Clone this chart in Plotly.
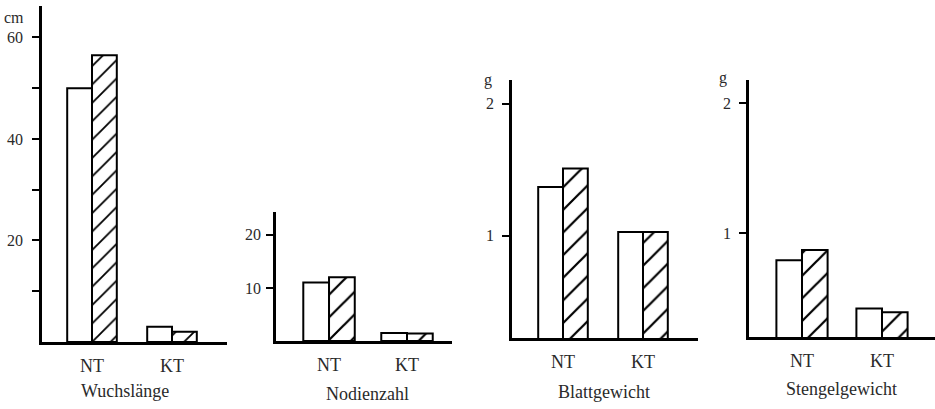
import plotly.graph_objects as go

# ---- data ----
categories = ["NT", "KT"]
panel_titles = ["Wuchslänge", "Nodienzahl", "Blattgewicht", "Stengelgewicht"]
panel_units = ["cm", "", "g", "g"]

wuchs_open = [50, 3]
wuchs_hatch = [56.5, 2]
nodien_open = [11, 1.5]
nodien_hatch = [12, 1.4]
blatt_open = [1.37, 1.03]
blatt_hatch = [1.51, 1.03]
stengel_open = [0.79, 0.42]
stengel_hatch = [0.87, 0.39]

open_series = [wuchs_open, nodien_open, blatt_open, stengel_open]
hatch_series = [wuchs_hatch, nodien_hatch, blatt_hatch, stengel_hatch]

major_ticks = [[20, 40, 60], [10, 20], [1, 2], [1, 2]]
minor_ticks = [[10, 30, 50], [], [], []]

# ---- layout (pixel geometry) ----
W, H = 935, 409
panels = [
    dict(x=(42, 227), y=(6, 342), yr=(0, 66.2), xr=(-0.625, 1.6875), hatch=13, bw=0.31,
         unit_pos=(14, 17), title_pos=(125, 391), standoff=6),
    dict(x=(276, 452), y=(212, 341), yr=(0, 24.3), xr=(-0.68, 1.577), hatch=16, bw=0.33,
         unit_pos=None, title_pos=(367, 394), standoff=2),
    dict(x=(512, 698), y=(80, 338), yr=(0.227, 2.18), xr=(-0.6375, 1.6875), hatch=16, bw=0.31,
         unit_pos=(488, 80), title_pos=(604, 392), standoff=5),
    dict(x=(749, 935), y=(80, 337), yr=(0.2, 2.177), xr=(-0.6625, 1.6625), hatch=16, bw=0.32,
         unit_pos=(723, 78), title_pos=(841, 389), standoff=5),
]

FONT = "Liberation Serif"
TXT = "#2a2a2a"

fig = go.Figure()
annotations = []
layout = dict(width=W, height=H, margin=dict(l=0, r=0, t=0, b=0),
              paper_bgcolor="white", plot_bgcolor="white", showlegend=False,
              barmode="overlay", font=dict(family=FONT, color=TXT, size=16))

for i, p in enumerate(panels):
    n = "" if i == 0 else str(i + 1)
    xa, ya = "x" + n, "y" + n
    bw = p["bw"]
    fig.add_trace(go.Bar(x=categories, y=open_series[i], xaxis=xa, yaxis=ya,
                         width=bw, offset=-bw, opacity=1,
                         marker=dict(color="white", opacity=1,
                                     line=dict(color="black", width=2))))
    fig.add_trace(go.Bar(x=categories, y=hatch_series[i], xaxis=xa, yaxis=ya,
                         width=bw, offset=0, opacity=1,
                         marker=dict(color="white", opacity=1,
                                     line=dict(color="black", width=2),
                                     pattern=dict(shape="/", fgcolor="black", bgcolor="white",
                                                  fgopacity=1, size=p["hatch"], solidity=0.14))))
    xd = [p["x"][0] / W, p["x"][1] / W]
    yd = [1 - p["y"][1] / H, 1 - p["y"][0] / H]
    layout["xaxis" + n] = dict(domain=xd, range=list(p["xr"]), anchor=ya, showgrid=False,
                               zeroline=False, showline=True, linecolor="black", linewidth=2.5,
                               ticks="", ticklabelstandoff=6,
                               tickfont=dict(family=FONT, size=18, color=TXT), fixedrange=True)
    yax = dict(domain=yd, range=list(p["yr"]), anchor=xa, showgrid=False, zeroline=False,
               showline=True, linecolor="black", linewidth=2.5,
               tickmode="array", tickvals=major_ticks[i], ticks="outside", ticklen=7,
               tickwidth=2, tickcolor="black", ticklabelstandoff=p["standoff"],
               tickfont=dict(family=FONT, size=16, color=TXT), fixedrange=True)
    if minor_ticks[i]:
        yax["minor"] = dict(tickmode="array", tickvals=minor_ticks[i], ticks="outside",
                            ticklen=7, tickwidth=2, tickcolor="black")
    layout["yaxis" + n] = yax
    if panel_units[i] and p["unit_pos"]:
        ux, uy = p["unit_pos"]
        annotations.append(dict(text=panel_units[i], x=ux / W, y=1 - uy / H, xref="paper",
                                yref="paper", showarrow=False, xanchor="center", yanchor="middle",
                                font=dict(family=FONT, size=16, color=TXT)))
    tx, ty = p["title_pos"]
    annotations.append(dict(text=panel_titles[i], x=tx / W, y=1 - ty / H, xref="paper",
                            yref="paper", showarrow=False, xanchor="center", yanchor="middle",
                            font=dict(family=FONT, size=18, color=TXT)))

layout["annotations"] = annotations
fig.update_layout(**layout)
fig.write_html("out.html", config={"displayModeBar": False},
               post_script="document.body.style.margin='0';document.body.style.padding='0';")
